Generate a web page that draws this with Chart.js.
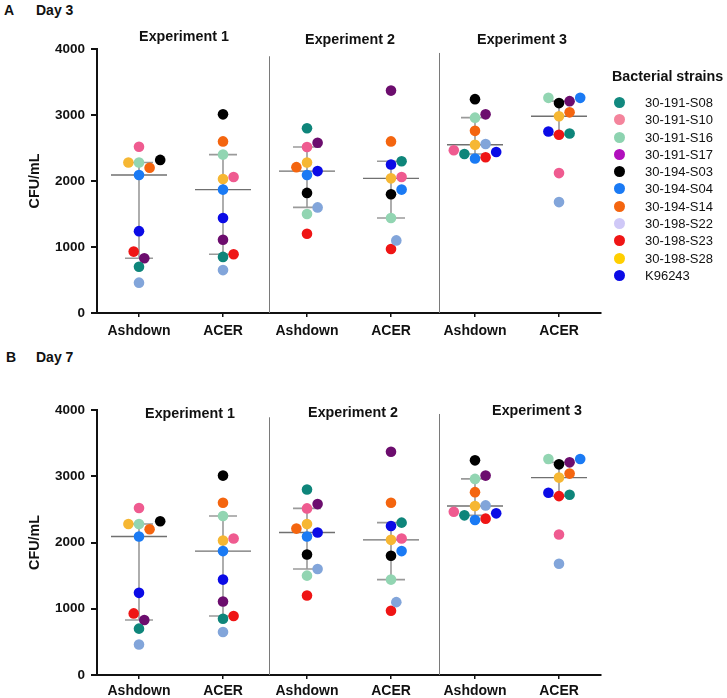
<!DOCTYPE html>
<html>
<head>
<meta charset="utf-8">
<script src="https://cdn.jsdelivr.net/npm/chart.js@4"></script>
<style>
  body { margin: 0; background: #fff; font-family: "Liberation Sans", Arial, sans-serif; }
  #wrap { position: relative; width: 727px; height: 698px; }
  canvas { position: absolute; left: 0; }
  .head { position: absolute; font-weight: bold; font-size: 14px; color: #111; line-height: 14px; }
  #legend { position: absolute; left: 612px; top: 68px; color: #111; }
  #legend .ttl { font-weight: bold; font-size: 14.3px; height: 17px; line-height: 17px; margin-bottom: 9px; }
  #legend .row { position: relative; height: 17.3px; line-height: 17.3px; font-size: 13px; }
  #legend .dot { position: absolute; left: 2px; top: 3px; width: 11px; height: 11px; border-radius: 50%; }
  #legend .lbl { position: absolute; left: 33px; top: 0; white-space: nowrap; }
</style>
</head>
<body>
<div id="wrap">
  <div class="head" style="left:4px;top:3px">A</div>
  <div class="head" style="left:36px;top:3px">Day 3</div>
  <div class="head" style="left:6px;top:350px">B</div>
  <div class="head" style="left:36px;top:350px">Day 7</div>
  <canvas id="chartA" width="727" height="340" style="top:0"></canvas>
  <canvas id="chartB" width="727" height="358" style="top:340px"></canvas>
  <div id="legend"></div>
</div>
<script>
// groups along the x axis
const groupLabels = ['Ashdown', 'ACER', 'Ashdown', 'ACER', 'Ashdown', 'ACER'];
const experiments = ['Experiment 1', 'Experiment 2', 'Experiment 3'];
const strains = ['30-191-S08', '30-191-S10', '30-191-S16', '30-191-S17', '30-194-S03', '30-194-S04',
                 '30-194-S14', '30-198-S22', '30-198-S23', '30-198-S28', 'K96243'];
const yTicks = [0, 1000, 2000, 3000, 4000];

// CFU/mL per strain (same order as strains)
const exp1Ashdown = [700, 2520, 2280, 830, 2320, 2090, 2200, 460, 930, 2280, 1240];
const exp1Acer    = [850, 2060, 2400, 1110, 3010, 1870, 2600, 650, 890, 2030, 1440];
const exp2Ashdown = [2800, 2515, 1500, 2580, 1820, 2090, 2210, 1600, 1200, 2280, 2150];
const exp2Acer    = [2300, 2060, 1440, 3370, 1800, 1870, 2600, 1100, 970, 2040, 2250];
const exp3Ashdown = [2410, 2465, 2960, 3010, 3240, 2340, 2760, 2560, 2360, 2550, 2440];
const exp3Acer    = [2720, 2120, 3260, 3210, 3180, 3260, 3040, 1680, 2700, 2980, 2750];

// the Day 7 panel shows the same values as Day 3
const day3 = [exp1Ashdown, exp1Acer, exp2Ashdown, exp2Acer, exp3Ashdown, exp3Acer];
const day7 = [exp1Ashdown, exp1Acer, exp2Ashdown, exp2Acer, exp3Ashdown, exp3Acer];

const dotColors = ['#0e857a', '#ef5b90', '#92d5b2', '#6c0d6e', '#000000', '#1a7af4',
                   '#f4650f', '#82a5da', '#ef1515', '#f6b733', '#0b0be6'];
const legendColors = ['#12897f', '#f4849c', '#8dd3b0', '#b10fbd', '#000000', '#1a7af4',
                      '#f4650f', '#cfc8f7', '#ef1515', '#ffcf00', '#0b0be6'];

const FONT = '"Liberation Sans", Arial, sans-serif';
const PX_PER_X = 84;          // plot width 504 px over 6 units
const PX_PER_Y = 264 / 4000;  // plot height over the y range
const DOT_R = 5.3;

// beeswarm offsets (x units) for one column of values
function swarm(values) {
  const step = DOT_R;
  const minD = 0.9 * DOT_R * 2;
  const order = values.map((v, i) => i).sort((a, b) => values[a] - values[b]);
  const placed = [];
  const off = new Array(values.length).fill(0);
  for (const i of order) {
    const y = values[i] * PX_PER_Y;
    for (let k = 0; k < 30; k++) {
      const s = k === 0 ? 0 : (k % 2 ? Math.ceil(k / 2) : -k / 2);
      const x = s * step;
      if (placed.every(p => Math.hypot(p.x - x, p.y - y) >= minD)) {
        off[i] = x / PX_PER_X;
        placed.push({ x, y });
        break;
      }
    }
  }
  return off;
}

function quartiles(values) {
  const s = values.slice().sort((a, b) => a - b);
  const at = p => {
    const r = (s.length + 1) * p - 1;
    const lo = Math.floor(r), f = r - lo;
    return s[lo] + (s[Math.min(lo + 1, s.length - 1)] - s[lo]) * f;
  };
  return { q1: at(0.25), med: at(0.5), q3: at(0.75) };
}

const summaryPlugin = {
  id: 'summary',
  beforeDatasetsDraw(chart, args, opts) {
    const { ctx, scales: { x, y } } = chart;
    ctx.save();
    // experiment separators
    ctx.strokeStyle = '#7a7a7a';
    ctx.lineWidth = 1;
    opts.separators.forEach(s => {
      const px = Math.round(x.getPixelForValue(s.at)) + 0.5;
      ctx.beginPath();
      ctx.moveTo(px, y.getPixelForValue(s.top));
      ctx.lineTo(px, y.getPixelForValue(0));
      ctx.stroke();
    });
    // median and interquartile range
    opts.columns.forEach((vals, g) => {
      const q = quartiles(vals);
      const cx = x.getPixelForValue(g + 1);
      ctx.strokeStyle = '#9a9a9a';
      ctx.lineWidth = 1.6;
      ctx.beginPath();
      ctx.moveTo(cx, y.getPixelForValue(q.q1));
      ctx.lineTo(cx, y.getPixelForValue(q.q3));
      ctx.moveTo(cx - 14, y.getPixelForValue(q.q1));
      ctx.lineTo(cx + 14, y.getPixelForValue(q.q1));
      ctx.moveTo(cx - 14, y.getPixelForValue(q.q3));
      ctx.lineTo(cx + 14, y.getPixelForValue(q.q3));
      ctx.stroke();
      ctx.strokeStyle = '#707070';
      ctx.lineWidth = 1.4;
      ctx.beginPath();
      ctx.moveTo(cx - 28, y.getPixelForValue(q.med));
      ctx.lineTo(cx + 28, y.getPixelForValue(q.med));
      ctx.stroke();
    });
    ctx.restore();
  },
  afterDraw(chart, args, opts) {
    const { ctx, chartArea, scales: { x } } = chart;
    ctx.save();
    ctx.fillStyle = '#111';
    ctx.font = 'bold 14.3px ' + FONT;
    ctx.textAlign = 'center';
    ctx.textBaseline = 'middle';
    experiments.forEach((name, i) => {
      const px = (x.getPixelForValue(2 * i + 1) + x.getPixelForValue(2 * i + 2)) / 2;
      ctx.fillText(name, px + opts.titleShift[i], opts.titleY[i]);
    });
    // y axis title
    ctx.translate(35, (chartArea.top + chartArea.bottom) / 2);
    ctx.rotate(-Math.PI / 2);
    ctx.fillText('CFU/mL', 0, 0);
    ctx.restore();
  }
};

function makeChart(id, columns, topPad, xHeight, labelPad, titleY, titleShift) {
  const datasets = strains.map((name, si) => ({
    label: name,
    data: [],
    backgroundColor: dotColors[si],
    borderWidth: 0,
    pointRadius: DOT_R,
    pointHoverRadius: DOT_R
  }));
  columns.forEach((vals, g) => {
    const offs = swarm(vals);
    vals.forEach((v, si) => datasets[si].data.push({ x: g + 1 + offs[si], y: v }));
  });

  return new Chart(document.getElementById(id), {
    type: 'scatter',
    data: { datasets },
    options: {
      responsive: false,
      animation: false,
      devicePixelRatio: 1,
      layout: { padding: { top: topPad, right: 126, left: 0, bottom: 0 } },
      plugins: {
        legend: { display: false },
        tooltip: { enabled: false },
        summary: {
          columns,
          titleY,
          titleShift,
          separators: [{ at: 2.55, top: 3890 }, { at: 4.57, top: 3940 }]
        }
      },
      scales: {
        x: {
          type: 'linear',
          min: 0.5,
          max: 6.5,
          afterFit: s => { s.height = xHeight; },
          afterBuildTicks: s => { s.ticks = groupLabels.map((l, i) => ({ value: i + 1 })); },
          ticks: {
            callback: (v) => groupLabels[v - 1],
            color: '#111',
            font: { family: FONT, size: 14, weight: 'bold' },
            padding: labelPad,
            maxRotation: 0,
            autoSkip: false
          },
          grid: { drawOnChartArea: false, drawTicks: true, tickLength: 4, color: '#111', lineWidth: 1.5 },
          border: { display: true, color: '#111', width: 2 }
        },
        y: {
          min: 0,
          max: 4000,
          afterFit: s => { s.width = 97; },
          afterBuildTicks: s => { s.ticks = yTicks.map(v => ({ value: v })); },
          ticks: {
            callback: (v) => String(v),
            color: '#111',
            font: { family: FONT, size: 13.5, weight: 'bold' },
            padding: 6
          },
          grid: { drawOnChartArea: false, drawTicks: true, tickLength: 6, color: '#111', lineWidth: 2 },
          border: { display: true, color: '#111', width: 2 }
        }
      }
    },
    plugins: [summaryPlugin]
  });
}

makeChart('chartA', day3, 49, 27, 6, [37, 40, 40], [3, 1, 5]);
makeChart('chartB', day7, 70, 23, 4, [74, 73, 71], [9, 4, 20]);

// legend
const legend = document.getElementById('legend');
legend.innerHTML = '<div class="ttl">Bacterial strains</div>' +
  strains.map((s, i) =>
    '<div class="row"><span class="dot" style="background:' + legendColors[i] + '"></span>' +
    '<span class="lbl">' + s + '</span></div>').join('');
</script>
</body>
</html>
